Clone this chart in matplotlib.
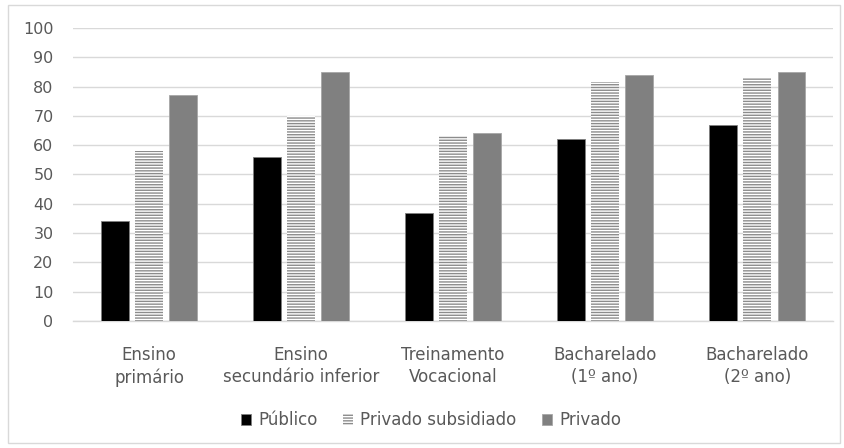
import numpy as np
import matplotlib.pyplot as plt
from matplotlib.patches import Rectangle

plt.rcParams["hatch.color"] = "#8c8c8c"
plt.rcParams["hatch.linewidth"] = 1.0

categorias = [
    "Ensino\nprimário",
    "Ensino\nsecundário inferior",
    "Treinamento\nVocacional",
    "Bacharelado\n(1º ano)",
    "Bacharelado\n(2º ano)",
]
publico = [34, 56, 37, 62, 67]
privado_subsidiado = [58, 70, 63, 81.5, 83]
privado = [77, 85, 64, 84, 85]

COR_TEXTO = "#595959"

fig = plt.figure(figsize=(8.45, 4.48), dpi=100)
ax = fig.add_axes([0.0864, 0.2835, 0.8996, 0.654])

x = np.arange(len(categorias))
largura = 0.18
passo = 0.224

ax.bar(x - passo, publico, largura, color="black", edgecolor="#7f7f7f",
       linewidth=0.6, label="Público", zorder=3)
ax.bar(x, privado_subsidiado, largura, color="white", edgecolor="#8c8c8c",
       hatch="------", linewidth=0, label="Privado subsidiado", zorder=3)
ax.bar(x + passo, privado, largura, color="#808080", edgecolor="#a6a6a6",
       linewidth=0.6, label="Privado", zorder=3)

ax.set_xlim(-0.5, len(categorias) - 0.5)
ax.set_ylim(0, 100)
ax.set_yticks(range(0, 101, 10))
ax.set_xticks(x)
ax.set_xticklabels(categorias, fontsize=12, color=COR_TEXTO, linespacing=1.3)
ax.tick_params(axis="y", labelsize=11.5, colors=COR_TEXTO, length=0, pad=14)
ax.tick_params(axis="x", length=0, pad=18)

ax.grid(axis="y", color="#d9d9d9", linewidth=1, zorder=0)
for lado in ["top", "right", "left"]:
    ax.spines[lado].set_visible(False)
ax.spines["bottom"].set_color("#d9d9d9")
ax.spines["bottom"].set_linewidth(1)

leg = fig.legend(loc="center", bbox_to_anchor=(0.51, 0.062), ncol=3,
                 frameon=False, fontsize=12, handlelength=0.6,
                 handleheight=0.6, handletextpad=0.45, columnspacing=1.5)
for texto in leg.get_texts():
    texto.set_color(COR_TEXTO)

# moldura externa do gráfico
fig.patches.append(Rectangle((0.009, 0.012), 0.985, 0.976, transform=fig.transFigure,
                             fill=False, edgecolor="#d9d9d9", linewidth=1))

fig.savefig("out.png", dpi=100)
